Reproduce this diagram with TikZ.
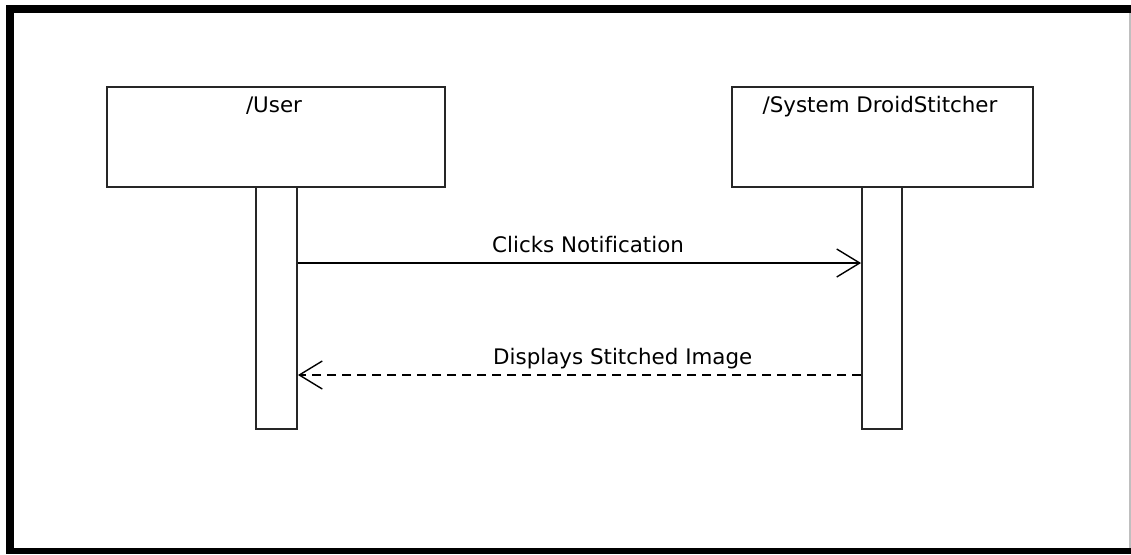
\documentclass[tikz,border=0pt]{standalone}
\usepackage{fontspec}
\setmainfont[Ligatures=NoCommon]{DejaVu Sans}
\usetikzlibrary{arrows.meta}
\begin{document}
\begin{tikzpicture}[x=1pt,y=-1pt,
  box/.style={draw=black!85,line width=1.9pt,fill=white,inner sep=0pt},
  lbl/.style={font=\fontsize{21.4}{25}\selectfont,inner sep=0pt},
  msg/.style={line width=1.7pt,-{Straight Barb[length=23pt,width=28pt,line width=1.4pt]}},
  ret/.style={msg,dash pattern=on 9pt off 6pt}]
\useasboundingbox (0,0) rectangle (1131,554);
\fill[white] (0,0) rectangle (1131,554);
% frame
\fill[black] (6,5) rectangle (1131,13);
\fill[black] (6,5) rectangle (14,554);
\fill[black] (6,548) rectangle (1131,554);
\fill[black!25] (1129,13) rectangle (1131,548);
% lifeline heads
\node[box,minimum width=338pt,minimum height=100pt] (user) at (276,137) {};
\node[box,minimum width=301pt,minimum height=100pt] (sys) at (882.5,137) {};
\node[lbl,anchor=base] (userlbl) at (274,112) {/User};
\node[lbl,anchor=base] (syslbl) at (880,112) {/System DroidStitcher};
% activations
\node[box,minimum width=41pt,minimum height=242pt] (ua) at (276.5,308) {};
\node[box,minimum width=40pt,minimum height=242pt] (sa) at (882,308) {};
% messages
\coordinate (m1) at (0,263);
\coordinate (m2) at (0,375);
\draw[msg] (ua.east |- m1) -- (sa.west |- m1);
\draw[ret] (sa.west |- m2) -- (ua.east |- m2);
\node[lbl,anchor=base west] (l1) at (492,252) {Clicks Notification};
\node[lbl,anchor=base west] (l2) at (493,364) {Displays Stitched Image};
\end{tikzpicture}
\end{document}
